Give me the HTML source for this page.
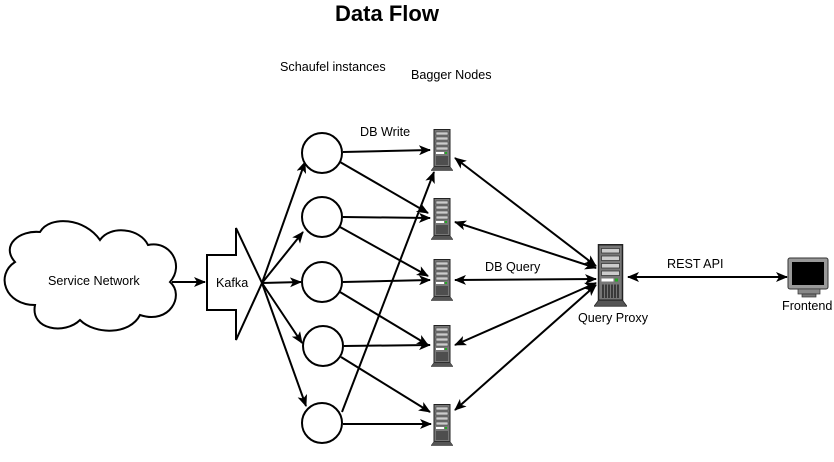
<!DOCTYPE html>
<html><head><meta charset="utf-8"><style>
html,body{margin:0;padding:0;background:#fff;}
svg{display:block;}
text{font-family:"Liberation Sans",sans-serif;font-size:12.6px;fill:#000;}
</style></head><body>
<svg width="834" height="462" viewBox="0 0 834 462" xmlns="http://www.w3.org/2000/svg">
<defs>
<marker id="a" markerWidth="12" markerHeight="10" refX="11" refY="5" orient="auto" markerUnits="userSpaceOnUse">
<path d="M0,0 L12,5 L0,10 L3,5 Z" fill="#000"/></marker>
<marker id="s" markerWidth="12" markerHeight="10" refX="1" refY="5" orient="auto" markerUnits="userSpaceOnUse">
<path d="M12,0 L0,5 L12,10 L9,5 Z" fill="#000"/></marker>
<symbol id="srv" viewBox="0 0 22 42" width="22" height="42">
<rect x="3" y="0.5" width="16" height="37" fill="#777" stroke="#222" stroke-width="1"/>
<rect x="5" y="3" width="12" height="3" fill="#ccc" stroke="#333" stroke-width=".5"/>
<rect x="5" y="8" width="12" height="3" fill="#ccc" stroke="#333" stroke-width=".5"/>
<rect x="5" y="13" width="12" height="3" fill="#ccc" stroke="#333" stroke-width=".5"/>
<rect x="5" y="18" width="12" height="3" fill="#ccc" stroke="#333" stroke-width=".5"/>
<rect x="5" y="23" width="8" height="2" fill="#fff"/>
<rect x="14" y="23" width="2" height="2" fill="#2a2"/>
<path d="M6,27v9M8,27v9M10,27v9M12,27v9M14,27v9M16,27v9" stroke="#111" stroke-width=".8"/>
<path d="M0,41.5 L3,37.5 L19,37.5 L22,41.5 Z" fill="#555" stroke="#222" stroke-width=".5"/>
</symbol>
</defs>
<text x="387" y="21" text-anchor="middle" style="font-size:22px;font-weight:bold">Data Flow</text>
<text x="280" y="71">Schaufel instances</text>
<text x="411" y="79">Bagger Nodes</text>
<text x="360" y="136">DB Write</text>
<text x="485" y="271">DB Query</text>
<text x="667" y="268">REST API</text>
<text x="578" y="322">Query Proxy</text>
<text x="782" y="310">Frontend</text>

<path d="M40,232 C50,215 85,218 100,240 C110,225 140,228 148,245 C170,240 185,265 170,282 C185,295 170,325 140,315 C130,335 95,335 80,320 C65,335 30,330 35,305 C5,305 -5,275 15,262 C0,245 20,230 40,232 Z" fill="#fff" stroke="#000" stroke-width="2"/>
<text x="48" y="285">Service Network</text>
<line x1="172" y1="282" x2="205" y2="282" stroke="#000" stroke-width="2" marker-end="url(#a)"/>

<path d="M207,255 L236,255 L236,228 L262,283 L236,340 L236,310 L207,310 Z" fill="#fff" stroke="#000" stroke-width="2"/>
<text x="216" y="287">Kafka</text>
<g stroke="#000" stroke-width="2" fill="none">
<line x1="262" y1="283" x2="305" y2="162" marker-end="url(#a)"/>
<line x1="262" y1="283" x2="303" y2="232" marker-end="url(#a)"/>
<line x1="262" y1="283" x2="301" y2="282" marker-end="url(#a)"/>
<line x1="262" y1="283" x2="302" y2="343" marker-end="url(#a)"/>
<line x1="262" y1="283" x2="306" y2="406" marker-end="url(#a)"/>
<line x1="343" y1="152" x2="430" y2="150" marker-end="url(#a)"/>
<line x1="340" y1="162" x2="428" y2="213" marker-end="url(#a)"/>
<line x1="343" y1="217" x2="430" y2="218" marker-end="url(#a)"/>
<line x1="340" y1="227" x2="428" y2="276" marker-end="url(#a)"/>
<line x1="343" y1="282" x2="430" y2="280" marker-end="url(#a)"/>
<line x1="340" y1="292" x2="428" y2="345" marker-end="url(#a)"/>
<line x1="344" y1="346" x2="430" y2="345" marker-end="url(#a)"/>
<line x1="341" y1="357" x2="430" y2="412" marker-end="url(#a)"/>
<line x1="343" y1="424" x2="431" y2="424" marker-end="url(#a)"/>
<line x1="342" y1="412" x2="434" y2="172" marker-end="url(#a)"/>
<line x1="596" y1="266" x2="455" y2="158" marker-start="url(#s)" marker-end="url(#a)" />
<line x1="596" y1="268" x2="455" y2="222" marker-end="url(#a)" marker-start="url(#s)"/>
<line x1="596" y1="279" x2="455" y2="280" marker-end="url(#a)" marker-start="url(#s)"/>
<line x1="596" y1="283" x2="455" y2="345" marker-end="url(#a)" marker-start="url(#s)"/>
<line x1="596" y1="285" x2="455" y2="410" marker-end="url(#a)" marker-start="url(#s)"/>
<line x1="628" y1="277" x2="787" y2="277" marker-end="url(#a)" marker-start="url(#s)"/>
</g>
<g fill="#fff" stroke="#000" stroke-width="2">
<circle cx="322" cy="153" r="20"/>
<circle cx="322" cy="217" r="20"/>
<circle cx="322" cy="282" r="20"/>
<circle cx="323" cy="346" r="20"/>
<circle cx="322" cy="423" r="20"/>
</g>
<use href="#srv" x="431" y="129"/>
<use href="#srv" x="431" y="198"/>
<use href="#srv" x="431" y="259"/>
<use href="#srv" x="431" y="325"/>
<use href="#srv" x="431" y="404"/>
<use href="#srv" x="594" y="244" width="33" height="63"/>
<rect x="788" y="258" width="40" height="31" rx="2" fill="#999" stroke="#333"/>
<rect x="792" y="262" width="32" height="23" fill="#000"/>
<rect x="798" y="289" width="22" height="5" fill="#888" stroke="#333" stroke-width=".7"/>
<rect x="802" y="294" width="14" height="3" fill="#777" stroke="#333" stroke-width=".7"/>
</svg>
</body></html>
